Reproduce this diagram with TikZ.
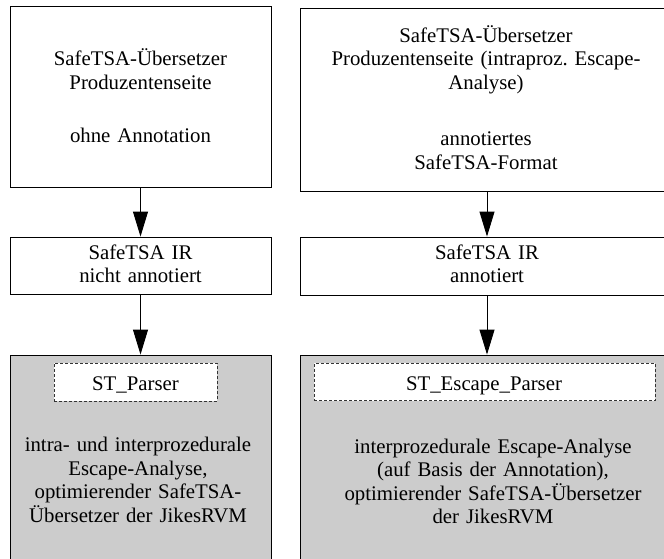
\documentclass[tikz,border=0pt]{standalone}
\usepackage{fontspec}
\setmainfont{Liberation Serif}
\usetikzlibrary{arrows.meta}
\definecolor{panelgray}{RGB}{204,204,204}
\frenchspacing
\begin{document}
\begin{tikzpicture}[x=1pt,y=-1pt,
  box/.style={draw=black, line width=0.9pt, fill=white, inner sep=0pt, rectangle},
  engine/.style={box, fill=panelgray},
  parserbox/.style={draw=black!80, line width=0.8pt, dash pattern=on 3pt off 2pt, fill=white, inner sep=0pt, rectangle},
  txt/.style={anchor=base, inner sep=0pt, align=center, font=\fontsize{20.8}{23.5}\selectfont},
  flow/.style={draw=black, line width=0.9pt, -{Triangle[length=25pt,width=15pt]}}
]
\useasboundingbox (0,0) rectangle (664,559);
\clip (0,0) rectangle (664,559);
\fill[white] (0,0) rectangle (664,559);

% left column: compiler without annotation
\node[box, minimum width=261pt, minimum height=181pt] (srcA) at (140.5,96.5) {};
\node[box, minimum width=261pt, minimum height=57.5pt] (irA) at (140.5,265.75) {};
\node[engine, minimum width=261pt, minimum height=245pt] (vmA) at (140.5,477.5) {};
\node[parserbox, minimum width=163pt, minimum height=38pt] (parA) at (135.5,382) {};

\node[txt, text width=250pt] (srcAtxt) at (140.5,66) {SafeTSA-Übersetzer\\Produzentenseite\\[30pt]ohne Annotation};
\node[txt, text width=250pt] (irAtxt) at (140.5,259.3) {SafeTSA IR\\nicht annotiert};
\node[txt, text width=160pt] (parAtxt) at (135.5,390) {ST\_Parser};
\node[txt, text width=255pt] (vmAtxt) at (138,451.7) {intra- und interprozedurale\\Escape-Analyse,\\optimierender SafeTSA-\\Übersetzer der JikesRVM};

% right column: compiler with escape annotation
\node[box, minimum width=374pt, minimum height=183pt] (srcB) at (487,99.5) {};
\node[box, minimum width=374pt, minimum height=58pt] (irB) at (487,266) {};
\node[engine, minimum width=386pt, minimum height=245pt] (vmB) at (493,477.5) {};
\node[parserbox, minimum width=341pt, minimum height=37.5pt] (parB) at (484.5,381.75) {};

\node[txt, text width=360pt] (srcBtxt) at (486,42.3) {SafeTSA-Übersetzer\\Produzentenseite (intraproz. Escape-\\Analyse)\\[33pt]annotiertes\\SafeTSA-Format};
\node[txt, text width=360pt] (irBtxt) at (487,259.3) {SafeTSA IR\\annotiert};
\node[txt, text width=330pt] (parBtxt) at (484,390) {ST\_Escape\_Parser};
\node[txt, text width=370pt] (vmBtxt) at (493,453) {interprozedurale Escape-Analyse\\(auf Basis der Annotation),\\optimierender SafeTSA-Übersetzer\\der JikesRVM};

% flow arrows
\draw[flow] (srcA.south) -- (irA.north);
\draw[flow] (irA.south) -- (vmA.north);
\draw[flow] (srcB.south) -- (irB.north);
\draw[flow] (irB.south) -- (irB.south |- vmB.north);
\end{tikzpicture}
\end{document}
